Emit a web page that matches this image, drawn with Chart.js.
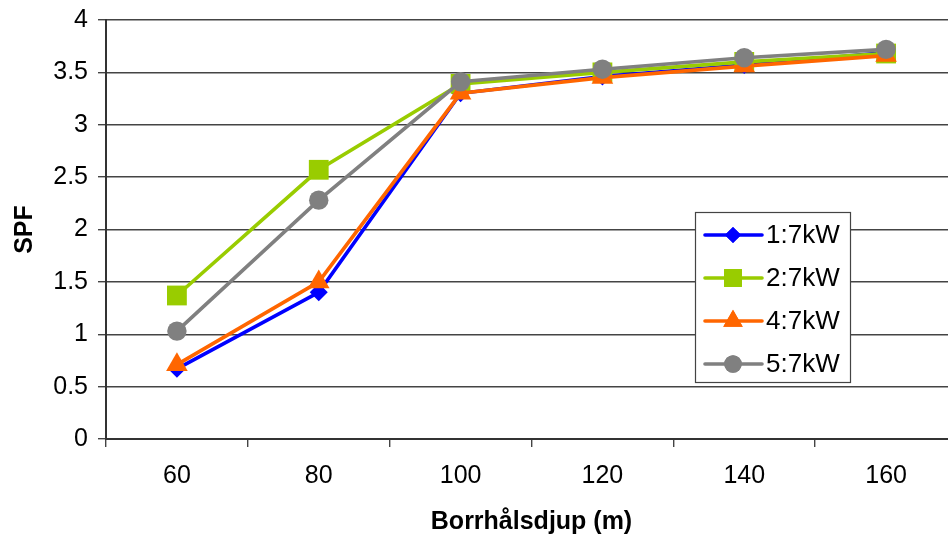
<!DOCTYPE html>
<html>
<head>
<meta charset="utf-8">
<script src="https://cdn.jsdelivr.net/npm/chart.js@4/dist/chart.umd.min.js"></script>
<style>
  html, body { margin: 0; padding: 0; background: #fff; overflow: hidden; }
  #wrap { width: 971px; height: 539px; }
</style>
</head>
<body>
<div id="wrap"><canvas id="c" width="971" height="539"></canvas></div>
<script>
// Borehole depth (m) and seasonal performance factor per configuration
const depths = ['60', '80', '100', '120', '140', '160'];
const spf_1_7kW = [0.67, 1.40, 3.30, 3.46, 3.57, 3.69];
const spf_2_7kW = [1.37, 2.57, 3.39, 3.50, 3.60, 3.68];
const spf_4_7kW = [0.71, 1.50, 3.30, 3.45, 3.56, 3.66];
const spf_5_7kW = [1.03, 2.28, 3.41, 3.53, 3.64, 3.72];
const seriesNames = ['1:7kW', '2:7kW', '4:7kW', '5:7kW'];

const FONT = "'Liberation Sans', Arial, sans-serif";

function series(label, data, color, style, radius, order) {
  return {
    label, data, order,
    borderColor: color, backgroundColor: color,
    borderWidth: 3.6, tension: 0,
    pointStyle: style, pointRadius: radius, pointHoverRadius: radius,
    pointBorderWidth: 0, pointBackgroundColor: color
  };
}

const datasets = [
  series(seriesNames[0], spf_1_7kW, '#0000FF', 'rectRot', 9, 4),
  series(seriesNames[1], spf_2_7kW, '#99CC00', 'rect', 14, 3),
  series(seriesNames[2], spf_4_7kW, '#FF6600', 'triangle', 12.5, 2),
  series(seriesNames[3], spf_5_7kW, '#808080', 'circle', 9.7, 1)
];

// Boxed legend drawn inside the plot area, right side
const boxLegend = {
  id: 'boxLegend',
  afterDraw(chart) {
    const ctx = chart.ctx;
    const x0 = 695, y0 = 212, w = 155, h = 170;
    ctx.save();
    ctx.fillStyle = '#fff';
    ctx.fillRect(x0, y0, w, h);
    ctx.strokeStyle = '#444';
    ctx.lineWidth = 1.2;
    ctx.strokeRect(x0 + 0.5, y0 + 0.5, w, h);
    const rows = [235, 278, 321, 364];
    chart.data.datasets.forEach((ds, i) => {
      const y = rows[i];
      ctx.strokeStyle = ds.borderColor;
      ctx.lineWidth = 3.6;
      ctx.lineCap = 'round';
      ctx.beginPath();
      ctx.moveTo(705, y);
      ctx.lineTo(762, y);
      ctx.stroke();
      ctx.fillStyle = ds.pointBackgroundColor;
      Chart.helpers.drawPoint(ctx, { pointStyle: ds.pointStyle, radius: ds.pointRadius * 0.9, borderWidth: 0 }, 733, y);
      ctx.fill();
      ctx.fillStyle = '#000';
      ctx.font = '26px ' + FONT;
      ctx.textAlign = 'left';
      ctx.textBaseline = 'middle';
      ctx.fillText(ds.label, 766, y + 1);
    });
    ctx.restore();
  }
};

new Chart(document.getElementById('c'), {
  type: 'line',
  data: { labels: depths, datasets },
  options: {
    responsive: false,
    animation: false,
    layout: { padding: { top: 20, right: 0, left: 0, bottom: 0 } },
    plugins: { legend: { display: false }, tooltip: { enabled: false } },
    scales: {
      x: {
        type: 'category',
        offset: true,
        grid: { offset: true, drawOnChartArea: false, drawTicks: true, tickLength: 8, color: '#444', lineWidth: 1.4 },
        border: { color: '#333', width: 2 },
        ticks: { color: '#000', font: { family: FONT, size: 25 }, padding: 14, maxRotation: 0 },
        title: { display: true, text: 'Borrhålsdjup (m)', color: '#000', font: { family: FONT, size: 25, weight: 'bold' }, padding: { top: 0, bottom: 2 } },
        afterFit(scale) { scale.height = 100; }
      },
      y: {
        min: 0, max: 4,
        ticks: { stepSize: 0.5, color: '#000', font: { family: FONT, size: 25, lineHeight: 0.8 }, padding: 10, callback: v => String(v) },
        grid: { color: '#444', lineWidth: 1.4, tickLength: 8 },
        border: { color: '#333', width: 2 },
        title: { display: true, text: 'SPF', color: '#000', font: { family: FONT, size: 25, weight: 'bold' }, padding: { top: 10, bottom: 0 } },
        afterFit(scale) { scale.width = 106; }
      }
    }
  },
  plugins: [boxLegend]
});
</script>
</body>
</html>
